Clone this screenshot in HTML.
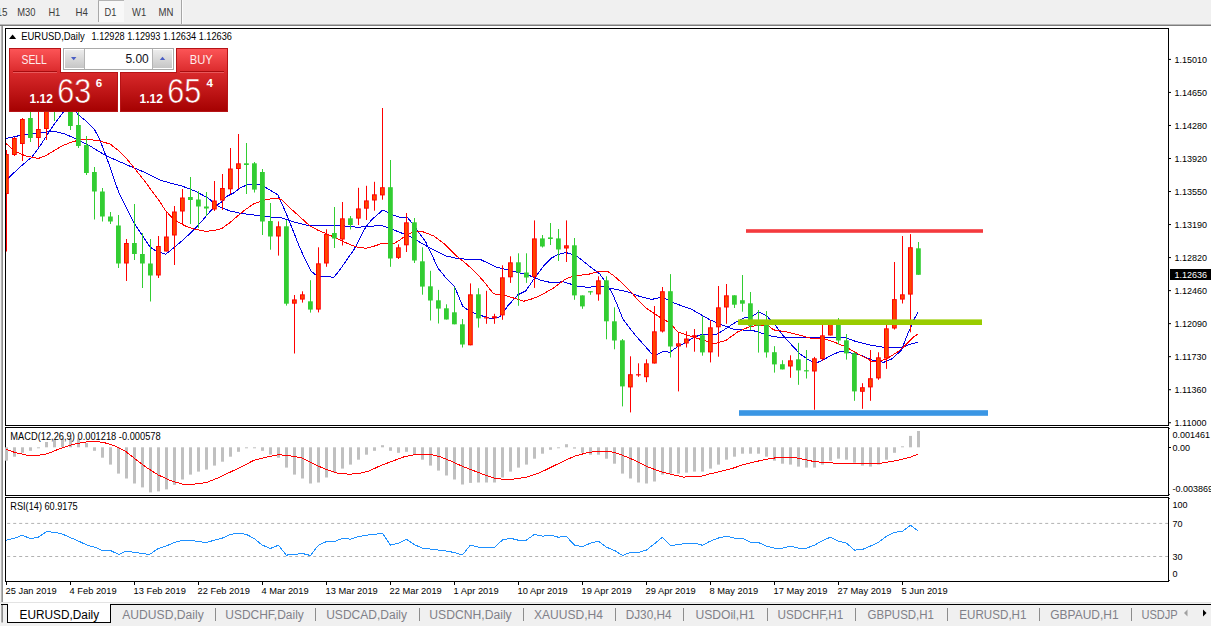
<!DOCTYPE html>
<html><head><meta charset="utf-8"><title>EURUSD,Daily</title>
<style>
html,body{margin:0;padding:0;}
body{width:1211px;height:626px;overflow:hidden;background:#fff;position:relative;font-family:"Liberation Sans",sans-serif;}
svg{position:absolute;left:0;top:0;}
text{font-family:"Liberation Sans",sans-serif;}
.ax{font-size:9px;fill:#000;}
.lb{font-size:10.2px;fill:#000;}
.tb{font-size:10.2px;fill:#3c3c3c;}
.tab{font-size:12px;fill:#808088;}
.ce{shape-rendering:crispEdges;}
</style></head><body>
<svg width="1211" height="626" viewBox="0 0 1211 626">
<defs>
<linearGradient id="gTop" x1="0" y1="0" x2="0" y2="1"><stop offset="0" stop-color="#fd5658"/><stop offset="1" stop-color="#d9282a"/></linearGradient>
<linearGradient id="gBot" x1="0" y1="0" x2="0" y2="1"><stop offset="0" stop-color="#d92a2c"/><stop offset="1" stop-color="#a40000"/></linearGradient>
<linearGradient id="gBotU" gradientUnits="userSpaceOnUse" x1="0" y1="72" x2="0" y2="112"><stop offset="0" stop-color="#d92a2c"/><stop offset="1" stop-color="#a40000"/></linearGradient>
<linearGradient id="gBtn" x1="0" y1="0" x2="0" y2="1"><stop offset="0" stop-color="#ececec"/><stop offset="1" stop-color="#c6c6c6"/></linearGradient>
<clipPath id="cm"><rect x="6" y="29" width="1162" height="396"/></clipPath>
<clipPath id="ctab"><rect x="0" y="603" width="1179" height="23"/></clipPath>
</defs>
<g class="ce">
<rect x="0" y="0" width="1211" height="24" fill="#f0f0f0"/>
<rect x="0" y="24" width="1211" height="1" fill="#b9b9b9"/>
<rect x="0" y="25" width="1211" height="1" fill="#7d7d7d"/>
<rect x="98" y="0" width="26" height="22" fill="#f8f8f8"/>
<rect x="98" y="0" width="1" height="22" fill="#a8a8a8"/>
<rect x="98" y="0" width="26" height="1" fill="#b4b4b4"/>
<rect x="181" y="0" width="1" height="24" fill="#a6a6a6"/>
<rect x="182" y="0" width="1" height="24" fill="#fbfbfb"/>
<rect x="0" y="26" width="1" height="577" fill="#f0f0f0"/>
</g>
<rect x="1.45" y="25" width="1.35" height="577.5" fill="#787878"/>
<text class="tb" x="-3.6" y="15.7" textLength="11" lengthAdjust="spacingAndGlyphs">15</text>
<text class="tb" x="17.3" y="15.7" textLength="18.2" lengthAdjust="spacingAndGlyphs">M30</text>
<text class="tb" x="48.4" y="15.7" textLength="11.9" lengthAdjust="spacingAndGlyphs">H1</text>
<text class="tb" x="75.6" y="15.7" textLength="12.4" lengthAdjust="spacingAndGlyphs">H4</text>
<text class="tb" x="104.5" y="15.7" textLength="11.9" lengthAdjust="spacingAndGlyphs">D1</text>
<text class="tb" x="132.1" y="15.7" textLength="14.1" lengthAdjust="spacingAndGlyphs">W1</text>
<text class="tb" x="158.5" y="15.7" textLength="14.9" lengthAdjust="spacingAndGlyphs">MN</text>
<g class="ce" fill="#000">
<rect x="5" y="28" width="1164" height="1"/>
<rect x="5" y="28" width="1" height="398"/>
<rect x="5" y="425" width="1164" height="1"/>
<rect x="1168" y="28" width="1" height="398"/>
<rect x="1168" y="427" width="1" height="69"/>
<rect x="1168" y="497" width="1" height="85"/>
<rect x="5" y="427" width="1164" height="1"/>
<rect x="5" y="427" width="1" height="69"/>
<rect x="5" y="495" width="1164" height="1"/>
<rect x="5" y="497" width="1164" height="1"/>
<rect x="5" y="497" width="1" height="85"/>
<rect x="5" y="581" width="1164" height="1"/>
</g>
<g clip-path="url(#cm)">
<polyline points="5.6,138.5 20.0,135.5 40.0,132.5 54.0,131.4 65.0,134.0 76.7,139.3 90.0,146.0 105.4,155.3 118.0,161.0 132.6,167.3 145.0,172.5 159.9,180.0 170.0,183.0 181.8,186.0 195.0,191.0 207.8,197.9 217.7,205.9 229.7,210.9 241.7,213.5 259.9,215.8 270.0,216.9 282.0,217.9 294.0,221.9 309.9,225.9 325.0,226.0 339.9,225.5 357.8,227.3 370.0,226.3 381.8,225.5 393.8,229.9 409.7,236.3 429.7,247.9 445.6,255.9 457.6,258.5 469.6,259.5 480.0,259.3 495.9,266.9 511.9,270.9 527.9,274.9 539.8,279.9 549.8,282.3 563.8,281.9 577.8,286.3 587.7,287.3 599.7,286.3 611.7,288.5 627.7,291.8 639.6,296.4 651.9,299.4 661.9,297.0 673.8,303.0 691.8,309.4 710.0,319.9 721.9,324.9 733.9,329.3 753.9,330.8 769.8,335.8 781.8,337.8 801.8,337.2 825.7,337.4 845.9,337.9 855.9,341.5 869.8,344.9 883.8,347.3 901.8,347.5 909.8,344.3 917.7,342.3" fill="none" stroke="#0000e6" stroke-width="1" stroke-linejoin="round" shape-rendering="crispEdges"/>
<polyline points="5.6,181.0 8.8,177.7 20.0,167.0 32.0,156.9 40.0,146.0 47.9,133.8 55.0,123.0 61.5,114.6 66.0,108.0 70.0,106.0 74.0,109.0 78.3,114.9 86.0,121.0 94.2,129.0 100.0,140.0 105.4,154.5 110.0,167.0 115.0,181.7 118.9,192.9 124.6,204.0 133.9,222.9 142.0,235.0 149.9,246.8 154.9,250.4 165.8,254.2 173.8,247.8 183.0,240.0 193.8,229.9 202.0,221.0 209.8,211.9 216.0,205.5 221.7,201.9 226.0,196.8 233.7,192.9 241.0,187.5 247.9,184.6 259.9,184.2 267.9,188.8 277.8,194.8 283.0,206.0 288.0,217.9 294.0,233.0 299.9,247.9 305.0,259.0 310.9,270.8 315.0,274.5 319.9,276.2 333.9,277.2 339.9,269.8 347.0,259.5 353.8,249.9 360.0,238.0 365.8,226.9 372.0,219.5 382.8,210.0 390.0,213.5 397.7,216.9 407.7,217.9 412.0,223.0 417.7,230.9 425.7,241.9 432.0,255.0 437.7,267.8 447.7,280.0 454.7,287.0 458.5,296.0 462.6,306.0 468.0,310.0 476.0,313.8 484.0,316.5 491.9,318.8 499.9,316.8 507.9,305.8 517.9,294.8 525.9,290.8 533.9,278.9 543.8,265.9 551.8,257.9 558.0,254.5 565.8,252.5 571.0,254.0 577.8,256.9 591.7,267.9 599.7,273.9 604.5,280.5 609.7,288.9 613.0,295.0 617.7,306.0 622.9,319.0 628.0,326.0 635.9,335.9 644.0,345.0 651.9,353.9 656.9,354.5 663.9,351.3 669.8,352.3 677.8,346.5 685.8,342.5 693.8,337.3 701.8,334.5 716.0,334.6 723.0,330.5 729.9,325.9 737.0,321.5 743.9,317.9 751.9,316.5 758.9,311.9 766.8,315.9 775.8,325.9 781.0,333.0 787.8,340.8 793.5,347.0 800.0,353.9 810.0,360.9 817.9,362.3 824.0,359.5 829.9,355.9 839.9,351.5 847.9,352.3 859.9,354.9 871.8,359.9 883.8,362.3 891.8,358.9 901.8,349.9 904.5,342.0 907.8,333.9 913.8,320.0 917.7,312.4" fill="none" stroke="#0000e6" stroke-width="1" stroke-linejoin="round" shape-rendering="crispEdges"/>
<polyline points="5.6,143.0 14.4,151.3 26.0,156.0 38.3,158.5 46.0,155.5 54.3,150.5 62.0,146.0 70.3,142.5 78.0,140.3 86.3,139.3 98.0,140.5 110.2,144.1 119.0,151.0 127.8,160.1 135.5,169.5 143.8,180.0 152.0,191.0 159.7,201.6 165.8,210.9 171.5,217.0 177.8,221.9 185.5,226.0 193.8,228.9 205.8,231.3 214.0,230.5 221.7,228.5 229.5,223.0 237.7,215.9 245.5,209.5 253.7,203.9 259.9,201.5 267.9,199.2 277.8,198.3 282.5,200.3 290.0,208.0 299.5,216.5 309.9,225.9 318.5,230.5 327.9,234.3 343.9,241.9 355.8,246.9 365.8,248.3 374.0,246.2 381.8,243.5 393.8,243.5 400.0,240.0 405.7,235.5 413.0,232.3 421.7,231.3 433.7,235.9 445.6,244.9 457.6,256.9 463.5,261.5 472.0,268.9 478.5,275.5 485.9,283.9 489.5,289.0 493.9,293.8 505.9,295.8 514.5,298.3 523.9,301.2 531.5,299.0 539.8,295.8 553.8,287.9 565.8,278.9 575.8,275.5 587.7,274.5 599.7,271.3 607.7,271.5 613.5,275.5 619.7,280.9 631.7,292.8 638.5,300.5 645.9,308.0 657.9,316.0 669.8,322.9 677.8,331.9 689.8,335.9 702.0,339.8 714.0,343.8 725.9,340.4 737.9,331.8 749.9,326.5 759.0,325.3 767.8,325.3 773.8,329.9 785.8,331.8 801.8,335.8 811.8,338.4 821.9,337.9 833.9,341.9 845.9,346.9 857.9,353.9 865.6,357.8 871.6,361.2 878.5,361.3 885.8,359.3 897.8,351.9 905.8,344.9 913.8,336.9 917.7,334.3" fill="none" stroke="#ff0000" stroke-width="1" stroke-linejoin="round" shape-rendering="crispEdges"/>
<rect x="6" y="150.0" width="1" height="101.5" fill="#ff0000"/>
<rect x="4" y="154.0" width="4.8" height="40.0" fill="#ff0000"/>
<rect x="5" y="155.0" width="2.8" height="38.0" fill="#ff4500"/>
<rect x="14" y="137.0" width="1" height="19.0" fill="#ff0000"/>
<rect x="12" y="138.0" width="4.8" height="17.0" fill="#ff0000"/>
<rect x="13" y="139.0" width="2.8" height="15.0" fill="#ff4500"/>
<rect x="22" y="118.0" width="1" height="43.0" fill="#ff0000"/>
<rect x="20" y="119.0" width="4.8" height="25.0" fill="#ff0000"/>
<rect x="21" y="120.0" width="2.8" height="23.0" fill="#ff4500"/>
<rect x="30" y="108.0" width="1" height="34.0" fill="#32cd32"/>
<rect x="28" y="118.0" width="4.8" height="20.0" fill="#32cd32"/>
<rect x="38" y="100.0" width="1" height="47.0" fill="#ff0000"/>
<rect x="36" y="129.0" width="4.8" height="9.0" fill="#ff0000"/>
<rect x="37" y="130.0" width="2.8" height="7.0" fill="#ff4500"/>
<rect x="46" y="100.0" width="1" height="40.0" fill="#ff0000"/>
<rect x="44" y="100.0" width="4.8" height="29.0" fill="#ff0000"/>
<rect x="45" y="101.0" width="2.8" height="27.0" fill="#ff4500"/>
<rect x="54" y="95.0" width="1" height="26.0" fill="#32cd32"/>
<rect x="52" y="100.0" width="4.8" height="8.0" fill="#32cd32"/>
<rect x="70" y="100.0" width="1" height="30.0" fill="#32cd32"/>
<rect x="68" y="100.0" width="4.8" height="26.0" fill="#32cd32"/>
<rect x="78" y="108.0" width="1" height="40.0" fill="#32cd32"/>
<rect x="76" y="125.0" width="4.8" height="21.0" fill="#32cd32"/>
<rect x="86" y="136.0" width="1" height="39.0" fill="#32cd32"/>
<rect x="84" y="145.0" width="4.8" height="28.0" fill="#32cd32"/>
<rect x="94" y="167.0" width="1" height="52.5" fill="#32cd32"/>
<rect x="92" y="172.0" width="4.8" height="19.5" fill="#32cd32"/>
<rect x="102" y="188.0" width="1" height="33.5" fill="#32cd32"/>
<rect x="100" y="191.5" width="4.8" height="25.0" fill="#32cd32"/>
<rect x="110" y="212.0" width="1" height="12.0" fill="#32cd32"/>
<rect x="108" y="216.5" width="4.8" height="5.0" fill="#32cd32"/>
<rect x="118" y="215.0" width="1" height="53.0" fill="#32cd32"/>
<rect x="116" y="225.5" width="4.8" height="38.0" fill="#32cd32"/>
<rect x="126" y="239.0" width="1" height="42.0" fill="#ff0000"/>
<rect x="124" y="243.0" width="4.8" height="20.5" fill="#ff0000"/>
<rect x="125" y="244.0" width="2.8" height="18.5" fill="#ff4500"/>
<rect x="134" y="204.0" width="1" height="56.0" fill="#32cd32"/>
<rect x="132" y="243.0" width="4.8" height="11.0" fill="#32cd32"/>
<rect x="142" y="233.0" width="1" height="55.0" fill="#32cd32"/>
<rect x="140" y="254.0" width="4.8" height="9.5" fill="#32cd32"/>
<rect x="150" y="239.0" width="1" height="62.5" fill="#32cd32"/>
<rect x="148" y="263.5" width="4.8" height="12.0" fill="#32cd32"/>
<rect x="158" y="236.0" width="1" height="42.0" fill="#ff0000"/>
<rect x="156" y="246.0" width="4.8" height="29.5" fill="#ff0000"/>
<rect x="157" y="247.0" width="2.8" height="27.5" fill="#ff4500"/>
<rect x="166" y="212.0" width="1" height="39.5" fill="#ff0000"/>
<rect x="164" y="236.5" width="4.8" height="15.0" fill="#ff0000"/>
<rect x="165" y="237.5" width="2.8" height="13.0" fill="#ff4500"/>
<rect x="174" y="206.0" width="1" height="59.0" fill="#ff0000"/>
<rect x="172" y="211.5" width="4.8" height="24.0" fill="#ff0000"/>
<rect x="173" y="212.5" width="2.8" height="22.0" fill="#ff4500"/>
<rect x="182" y="189.0" width="1" height="35.0" fill="#ff0000"/>
<rect x="180" y="197.5" width="4.8" height="14.0" fill="#ff0000"/>
<rect x="181" y="198.5" width="2.8" height="12.0" fill="#ff4500"/>
<rect x="190" y="177.0" width="1" height="47.0" fill="#32cd32"/>
<rect x="188" y="197.0" width="4.8" height="3.0" fill="#32cd32"/>
<rect x="198" y="191.0" width="1" height="37.0" fill="#32cd32"/>
<rect x="196" y="199.5" width="4.8" height="7.0" fill="#32cd32"/>
<rect x="206" y="192.0" width="1" height="24.0" fill="#32cd32"/>
<rect x="204" y="206.5" width="4.8" height="2.0" fill="#32cd32"/>
<rect x="214" y="181.0" width="1" height="30.0" fill="#ff0000"/>
<rect x="212" y="200.5" width="4.8" height="9.0" fill="#ff0000"/>
<rect x="213" y="201.5" width="2.8" height="7.0" fill="#ff4500"/>
<rect x="222" y="174.0" width="1" height="36.0" fill="#ff0000"/>
<rect x="220" y="188.0" width="4.8" height="12.5" fill="#ff0000"/>
<rect x="221" y="189.0" width="2.8" height="10.5" fill="#ff4500"/>
<rect x="230" y="148.0" width="1" height="46.0" fill="#ff0000"/>
<rect x="228" y="168.5" width="4.8" height="20.8" fill="#ff0000"/>
<rect x="229" y="169.5" width="2.8" height="18.8" fill="#ff4500"/>
<rect x="238" y="134.0" width="1" height="55.0" fill="#ff0000"/>
<rect x="236" y="163.3" width="4.8" height="5.7" fill="#ff0000"/>
<rect x="237" y="164.3" width="2.8" height="3.7" fill="#ff4500"/>
<rect x="246" y="143.0" width="1" height="51.0" fill="#32cd32"/>
<rect x="244" y="163.3" width="4.8" height="1.7" fill="#32cd32"/>
<rect x="254" y="162.0" width="1" height="30.5" fill="#32cd32"/>
<rect x="252" y="163.3" width="4.8" height="26.3" fill="#32cd32"/>
<rect x="262" y="169.0" width="1" height="66.0" fill="#32cd32"/>
<rect x="260" y="172.0" width="4.8" height="49.5" fill="#32cd32"/>
<rect x="270" y="203.0" width="1" height="46.7" fill="#32cd32"/>
<rect x="268" y="221.0" width="4.8" height="15.5" fill="#32cd32"/>
<rect x="278" y="221.4" width="1" height="34.2" fill="#ff0000"/>
<rect x="276" y="226.3" width="4.8" height="10.2" fill="#ff0000"/>
<rect x="277" y="227.3" width="2.8" height="8.2" fill="#ff4500"/>
<rect x="286" y="220.0" width="1" height="85.6" fill="#32cd32"/>
<rect x="284" y="226.3" width="4.8" height="77.4" fill="#32cd32"/>
<rect x="294" y="295.0" width="1" height="58.5" fill="#ff0000"/>
<rect x="292" y="299.4" width="4.8" height="4.3" fill="#ff0000"/>
<rect x="293" y="300.4" width="2.8" height="2.3" fill="#ff4500"/>
<rect x="302" y="291.3" width="1" height="11.3" fill="#ff0000"/>
<rect x="300" y="294.3" width="4.8" height="5.3" fill="#ff0000"/>
<rect x="301" y="295.3" width="2.8" height="3.3" fill="#ff4500"/>
<rect x="310" y="280.2" width="1" height="32.4" fill="#32cd32"/>
<rect x="308" y="301.3" width="4.8" height="8.3" fill="#32cd32"/>
<rect x="318" y="247.3" width="1" height="65.1" fill="#ff0000"/>
<rect x="316" y="263.3" width="4.8" height="46.3" fill="#ff0000"/>
<rect x="317" y="264.3" width="2.8" height="44.3" fill="#ff4500"/>
<rect x="326" y="229.3" width="1" height="37.5" fill="#ff0000"/>
<rect x="324" y="233.9" width="4.8" height="29.6" fill="#ff0000"/>
<rect x="325" y="234.9" width="2.8" height="27.6" fill="#ff4500"/>
<rect x="334" y="207.0" width="1" height="41.0" fill="#32cd32"/>
<rect x="332" y="233.0" width="4.8" height="5.5" fill="#32cd32"/>
<rect x="342" y="202.0" width="1" height="43.5" fill="#ff0000"/>
<rect x="340" y="218.3" width="4.8" height="21.2" fill="#ff0000"/>
<rect x="341" y="219.3" width="2.8" height="19.2" fill="#ff4500"/>
<rect x="350" y="216.0" width="1" height="13.5" fill="#32cd32"/>
<rect x="348" y="218.3" width="4.8" height="6.7" fill="#32cd32"/>
<rect x="358" y="187.8" width="1" height="37.2" fill="#ff0000"/>
<rect x="356" y="208.4" width="4.8" height="10.2" fill="#ff0000"/>
<rect x="357" y="209.4" width="2.8" height="8.2" fill="#ff4500"/>
<rect x="366" y="185.8" width="1" height="34.2" fill="#ff0000"/>
<rect x="364" y="200.4" width="4.8" height="8.3" fill="#ff0000"/>
<rect x="365" y="201.4" width="2.8" height="6.3" fill="#ff4500"/>
<rect x="374" y="181.8" width="1" height="28.9" fill="#ff0000"/>
<rect x="372" y="194.3" width="4.8" height="6.2" fill="#ff0000"/>
<rect x="373" y="195.3" width="2.8" height="4.2" fill="#ff4500"/>
<rect x="382" y="108.0" width="1" height="91.7" fill="#ff0000"/>
<rect x="380" y="187.2" width="4.8" height="8.2" fill="#ff0000"/>
<rect x="381" y="188.2" width="2.8" height="6.2" fill="#ff4500"/>
<rect x="390" y="160.0" width="1" height="106.8" fill="#32cd32"/>
<rect x="388" y="187.2" width="4.8" height="71.3" fill="#32cd32"/>
<rect x="398" y="244.3" width="1" height="14.7" fill="#ff0000"/>
<rect x="396" y="247.3" width="4.8" height="10.6" fill="#ff0000"/>
<rect x="397" y="248.3" width="2.8" height="8.6" fill="#ff4500"/>
<rect x="406" y="213.0" width="1" height="39.0" fill="#ff0000"/>
<rect x="404" y="222.3" width="4.8" height="23.0" fill="#ff0000"/>
<rect x="405" y="223.3" width="2.8" height="21.0" fill="#ff4500"/>
<rect x="414" y="218.0" width="1" height="45.0" fill="#32cd32"/>
<rect x="412" y="222.3" width="4.8" height="38.2" fill="#32cd32"/>
<rect x="422" y="247.3" width="1" height="47.4" fill="#32cd32"/>
<rect x="420" y="261.3" width="4.8" height="25.3" fill="#32cd32"/>
<rect x="430" y="270.8" width="1" height="49.7" fill="#32cd32"/>
<rect x="428" y="286.3" width="4.8" height="14.2" fill="#32cd32"/>
<rect x="438" y="289.9" width="1" height="33.6" fill="#32cd32"/>
<rect x="436" y="300.3" width="4.8" height="8.3" fill="#32cd32"/>
<rect x="446" y="304.3" width="1" height="15.2" fill="#32cd32"/>
<rect x="444" y="308.3" width="4.8" height="11.2" fill="#32cd32"/>
<rect x="454" y="287.1" width="1" height="37.2" fill="#32cd32"/>
<rect x="452" y="312.3" width="4.8" height="12.0" fill="#32cd32"/>
<rect x="462" y="319.0" width="1" height="28.5" fill="#32cd32"/>
<rect x="460" y="324.3" width="4.8" height="20.2" fill="#32cd32"/>
<rect x="470" y="283.4" width="1" height="61.9" fill="#ff0000"/>
<rect x="468" y="294.3" width="4.8" height="51.0" fill="#ff0000"/>
<rect x="469" y="295.3" width="2.8" height="49.0" fill="#ff4500"/>
<rect x="478" y="288.2" width="1" height="39.4" fill="#32cd32"/>
<rect x="476" y="294.3" width="4.8" height="24.1" fill="#32cd32"/>
<rect x="486" y="290.8" width="1" height="33.0" fill="#ff0000"/>
<rect x="484" y="317.2" width="4.8" height="1.2" fill="#ff0000"/>
<rect x="494" y="313.8" width="1" height="10.0" fill="#ff0000"/>
<rect x="492" y="316.2" width="4.8" height="2.2" fill="#ff0000"/>
<rect x="502" y="265.3" width="1" height="54.5" fill="#ff0000"/>
<rect x="500" y="277.3" width="4.8" height="38.1" fill="#ff0000"/>
<rect x="501" y="278.3" width="2.8" height="36.1" fill="#ff4500"/>
<rect x="510" y="256.3" width="1" height="26.6" fill="#ff0000"/>
<rect x="508" y="262.3" width="4.8" height="15.0" fill="#ff0000"/>
<rect x="509" y="263.3" width="2.8" height="13.0" fill="#ff4500"/>
<rect x="518" y="253.3" width="1" height="52.5" fill="#32cd32"/>
<rect x="516" y="262.3" width="4.8" height="10.2" fill="#32cd32"/>
<rect x="526" y="253.3" width="1" height="29.6" fill="#32cd32"/>
<rect x="524" y="272.5" width="4.8" height="5.0" fill="#32cd32"/>
<rect x="534" y="220.4" width="1" height="67.5" fill="#ff0000"/>
<rect x="532" y="238.4" width="4.8" height="38.5" fill="#ff0000"/>
<rect x="533" y="239.4" width="2.8" height="36.5" fill="#ff4500"/>
<rect x="542" y="235.0" width="1" height="12.5" fill="#32cd32"/>
<rect x="540" y="238.4" width="4.8" height="8.1" fill="#32cd32"/>
<rect x="550" y="223.0" width="1" height="22.0" fill="#32cd32"/>
<rect x="548" y="237.4" width="4.8" height="1.6" fill="#32cd32"/>
<rect x="558" y="229.0" width="1" height="32.0" fill="#32cd32"/>
<rect x="556" y="238.4" width="4.8" height="11.1" fill="#32cd32"/>
<rect x="566" y="220.4" width="1" height="41.6" fill="#ff0000"/>
<rect x="564" y="245.3" width="4.8" height="3.2" fill="#ff0000"/>
<rect x="565" y="246.3" width="2.8" height="1.2" fill="#ff4500"/>
<rect x="574" y="238.0" width="1" height="61.8" fill="#32cd32"/>
<rect x="572" y="245.3" width="4.8" height="50.1" fill="#32cd32"/>
<rect x="582" y="295.4" width="1" height="13.4" fill="#32cd32"/>
<rect x="580" y="295.4" width="4.8" height="11.0" fill="#32cd32"/>
<rect x="590" y="291.2" width="1" height="3.6" fill="#32cd32"/>
<rect x="588" y="291.2" width="4.8" height="1.2" fill="#32cd32"/>
<rect x="598" y="276.3" width="1" height="24.4" fill="#ff0000"/>
<rect x="596" y="280.3" width="4.8" height="14.1" fill="#ff0000"/>
<rect x="597" y="281.3" width="2.8" height="12.1" fill="#ff4500"/>
<rect x="606" y="276.3" width="1" height="63.0" fill="#32cd32"/>
<rect x="604" y="280.3" width="4.8" height="41.0" fill="#32cd32"/>
<rect x="614" y="307.3" width="1" height="42.0" fill="#32cd32"/>
<rect x="612" y="321.3" width="4.8" height="19.2" fill="#32cd32"/>
<rect x="622" y="339.0" width="1" height="67.4" fill="#32cd32"/>
<rect x="620" y="340.3" width="4.8" height="46.1" fill="#32cd32"/>
<rect x="630" y="356.3" width="1" height="56.1" fill="#ff0000"/>
<rect x="628" y="374.2" width="4.8" height="13.2" fill="#ff0000"/>
<rect x="629" y="375.2" width="2.8" height="11.2" fill="#ff4500"/>
<rect x="638" y="363.3" width="1" height="13.5" fill="#ff0000"/>
<rect x="636" y="374.2" width="4.8" height="1.2" fill="#ff0000"/>
<rect x="646" y="359.3" width="1" height="22.9" fill="#ff0000"/>
<rect x="644" y="363.3" width="4.8" height="13.9" fill="#ff0000"/>
<rect x="645" y="364.3" width="2.8" height="11.9" fill="#ff4500"/>
<rect x="654" y="306.0" width="1" height="57.5" fill="#ff0000"/>
<rect x="652" y="331.3" width="4.8" height="32.2" fill="#ff0000"/>
<rect x="653" y="332.3" width="2.8" height="30.2" fill="#ff4500"/>
<rect x="662" y="287.0" width="1" height="45.5" fill="#ff0000"/>
<rect x="660" y="291.2" width="4.8" height="40.3" fill="#ff0000"/>
<rect x="661" y="292.2" width="2.8" height="38.3" fill="#ff4500"/>
<rect x="670" y="274.1" width="1" height="83.4" fill="#32cd32"/>
<rect x="668" y="291.2" width="4.8" height="55.3" fill="#32cd32"/>
<rect x="678" y="332.3" width="1" height="59.1" fill="#ff0000"/>
<rect x="676" y="343.3" width="4.8" height="3.2" fill="#ff0000"/>
<rect x="677" y="344.3" width="2.8" height="1.2" fill="#ff4500"/>
<rect x="686" y="331.3" width="1" height="16.2" fill="#ff0000"/>
<rect x="684" y="338.5" width="4.8" height="5.0" fill="#ff0000"/>
<rect x="685" y="339.5" width="2.8" height="3.0" fill="#ff4500"/>
<rect x="694" y="329.0" width="1" height="22.7" fill="#ff0000"/>
<rect x="692" y="335.2" width="4.8" height="2.2" fill="#ff0000"/>
<rect x="702" y="316.3" width="1" height="39.4" fill="#32cd32"/>
<rect x="700" y="335.2" width="4.8" height="17.2" fill="#32cd32"/>
<rect x="710" y="320.3" width="1" height="42.1" fill="#ff0000"/>
<rect x="708" y="327.3" width="4.8" height="25.1" fill="#ff0000"/>
<rect x="709" y="328.3" width="2.8" height="23.1" fill="#ff4500"/>
<rect x="718" y="286.0" width="1" height="70.7" fill="#ff0000"/>
<rect x="716" y="307.3" width="4.8" height="20.0" fill="#ff0000"/>
<rect x="717" y="308.3" width="2.8" height="18.0" fill="#ff4500"/>
<rect x="726" y="284.0" width="1" height="39.8" fill="#ff0000"/>
<rect x="724" y="295.3" width="4.8" height="12.2" fill="#ff0000"/>
<rect x="725" y="296.3" width="2.8" height="10.2" fill="#ff4500"/>
<rect x="734" y="295.3" width="1" height="12.7" fill="#32cd32"/>
<rect x="732" y="295.3" width="4.8" height="9.4" fill="#32cd32"/>
<rect x="742" y="275.0" width="1" height="36.7" fill="#32cd32"/>
<rect x="740" y="300.2" width="4.8" height="3.5" fill="#32cd32"/>
<rect x="750" y="292.0" width="1" height="38.0" fill="#32cd32"/>
<rect x="748" y="303.3" width="4.8" height="22.5" fill="#32cd32"/>
<rect x="758" y="310.0" width="1" height="42.6" fill="#32cd32"/>
<rect x="756" y="321.0" width="4.8" height="4.8" fill="#32cd32"/>
<rect x="766" y="311.0" width="1" height="46.6" fill="#32cd32"/>
<rect x="764" y="325.0" width="4.8" height="27.4" fill="#32cd32"/>
<rect x="774" y="346.2" width="1" height="26.4" fill="#32cd32"/>
<rect x="772" y="352.2" width="4.8" height="12.2" fill="#32cd32"/>
<rect x="782" y="360.2" width="1" height="9.2" fill="#32cd32"/>
<rect x="780" y="364.2" width="4.8" height="5.2" fill="#32cd32"/>
<rect x="790" y="355.3" width="1" height="22.5" fill="#ff0000"/>
<rect x="788" y="360.3" width="4.8" height="6.2" fill="#ff0000"/>
<rect x="789" y="361.3" width="2.8" height="4.2" fill="#ff4500"/>
<rect x="798" y="342.9" width="1" height="41.9" fill="#32cd32"/>
<rect x="796" y="359.3" width="4.8" height="11.1" fill="#32cd32"/>
<rect x="806" y="350.0" width="1" height="28.5" fill="#32cd32"/>
<rect x="804" y="370.2" width="4.8" height="1.2" fill="#32cd32"/>
<rect x="814" y="356.9" width="1" height="52.9" fill="#ff0000"/>
<rect x="812" y="358.3" width="4.8" height="13.2" fill="#ff0000"/>
<rect x="813" y="359.3" width="2.8" height="11.2" fill="#ff4500"/>
<rect x="822" y="325.0" width="1" height="35.9" fill="#ff0000"/>
<rect x="820" y="335.3" width="4.8" height="23.8" fill="#ff0000"/>
<rect x="821" y="336.3" width="2.8" height="21.8" fill="#ff4500"/>
<rect x="830" y="322.0" width="1" height="13.5" fill="#ff0000"/>
<rect x="828" y="322.0" width="4.8" height="13.5" fill="#ff0000"/>
<rect x="829" y="323.0" width="2.8" height="11.5" fill="#ff4500"/>
<rect x="838" y="318.0" width="1" height="26.5" fill="#32cd32"/>
<rect x="836" y="325.0" width="4.8" height="15.5" fill="#32cd32"/>
<rect x="846" y="334.0" width="1" height="25.6" fill="#32cd32"/>
<rect x="844" y="340.3" width="4.8" height="13.1" fill="#32cd32"/>
<rect x="854" y="352.0" width="1" height="48.8" fill="#32cd32"/>
<rect x="852" y="353.3" width="4.8" height="38.1" fill="#32cd32"/>
<rect x="862" y="383.2" width="1" height="25.6" fill="#ff0000"/>
<rect x="860" y="387.2" width="4.8" height="4.6" fill="#ff0000"/>
<rect x="861" y="388.2" width="2.8" height="2.6" fill="#ff4500"/>
<rect x="870" y="350.0" width="1" height="50.8" fill="#ff0000"/>
<rect x="868" y="378.2" width="4.8" height="9.2" fill="#ff0000"/>
<rect x="869" y="379.2" width="2.8" height="7.2" fill="#ff4500"/>
<rect x="878" y="352.3" width="1" height="27.5" fill="#ff0000"/>
<rect x="876" y="357.3" width="4.8" height="21.1" fill="#ff0000"/>
<rect x="877" y="358.3" width="2.8" height="19.1" fill="#ff4500"/>
<rect x="886" y="325.0" width="1" height="43.9" fill="#ff0000"/>
<rect x="884" y="328.3" width="4.8" height="30.3" fill="#ff0000"/>
<rect x="885" y="329.3" width="2.8" height="28.3" fill="#ff4500"/>
<rect x="894" y="262.0" width="1" height="67.5" fill="#ff0000"/>
<rect x="892" y="299.1" width="4.8" height="29.4" fill="#ff0000"/>
<rect x="893" y="300.1" width="2.8" height="27.4" fill="#ff4500"/>
<rect x="902" y="236.0" width="1" height="67.5" fill="#ff0000"/>
<rect x="900" y="294.3" width="4.8" height="5.3" fill="#ff0000"/>
<rect x="901" y="295.3" width="2.8" height="3.3" fill="#ff4500"/>
<rect x="910" y="234.1" width="1" height="98.2" fill="#ff0000"/>
<rect x="908" y="247.2" width="4.8" height="47.4" fill="#ff0000"/>
<rect x="909" y="248.2" width="2.8" height="45.4" fill="#ff4500"/>
<rect x="918" y="242.0" width="1" height="32.8" fill="#32cd32"/>
<rect x="916" y="248.3" width="4.8" height="26.5" fill="#32cd32"/>
<rect x="746" y="229.2" width="237" height="3.6" fill="#f43a3e"/>
<rect x="738" y="319.4" width="244" height="5.6" fill="#99cc00"/>
<rect x="739" y="410.2" width="249" height="5.6" fill="#3a96e4"/>
</g>
<g class="ce">
<rect x="9" y="48" width="219" height="25" fill="#fff"/>
<rect x="9" y="48" width="52" height="25" fill="url(#gTop)" stroke="none"/>
<rect x="176" y="48" width="52" height="25" fill="url(#gTop)"/>
<rect x="9" y="72" width="109" height="40" fill="url(#gBot)"/>
<rect x="120" y="72" width="108" height="40" fill="url(#gBot)"/>
<path d="M9.5 112V48.5H60.5V72.5H117.5V111.5H9.5" fill="none" stroke="#b61316" stroke-width="1"/>
<path d="M227.5 112V48.5H176.5V72.5H120.5V111.5H227.5" fill="none" stroke="#b61316" stroke-width="1"/>
<rect x="13" y="71" width="44" height="1" fill="#a80b0d"/>
<rect x="13" y="72" width="44" height="1" fill="#e8595b"/>
<rect x="180" y="71" width="44" height="1" fill="#a80b0d"/>
<rect x="180" y="72" width="44" height="1" fill="#e8595b"/>
<rect x="63.5" y="48.5" width="110" height="21" fill="#fff" stroke="#a9a9a9"/>
<rect x="65" y="50" width="19" height="18" fill="url(#gBtn)"/>
<rect x="84" y="49" width="1" height="20" fill="#b4b4b4"/>
<rect x="153" y="50" width="19" height="18" fill="url(#gBtn)"/>
<rect x="152" y="49" width="1" height="20" fill="#b4b4b4"/>
</g>
<path d="M71 57h5.4l-2.7 3.2z" fill="#4a5ec4"/>
<path d="M159.8 60h5.4l-2.7-3.2z" fill="#4a5ec4"/>
<text x="34.2" y="64" text-anchor="middle" font-size="12" fill="#ffecec" textLength="25.4" lengthAdjust="spacingAndGlyphs">SELL</text>
<text x="201.3" y="64" text-anchor="middle" font-size="12" fill="#ffecec" textLength="23" lengthAdjust="spacingAndGlyphs">BUY</text>
<text x="148.8" y="63.2" text-anchor="end" font-size="12" fill="#101020">5.00</text>
<text x="29.5" y="103" font-size="12" font-weight="bold" fill="#fff">1.12</text>
<text x="57.2" y="103.2" font-size="34.5" fill="#fff" stroke="url(#gBotU)" stroke-width="0.55" textLength="34" lengthAdjust="spacingAndGlyphs">63</text>
<text x="95.8" y="87.3" font-size="11.6" font-weight="bold" fill="#fff">6</text>
<text x="139.5" y="103" font-size="12" font-weight="bold" fill="#fff">1.12</text>
<text x="167.2" y="103.2" font-size="34.5" fill="#fff" stroke="url(#gBotU)" stroke-width="0.55" textLength="34" lengthAdjust="spacingAndGlyphs">65</text>
<text x="206.60000000000002" y="87.3" font-size="11.6" font-weight="bold" fill="#fff">4</text>
<path d="M9 39h7.2l-3.6-4.4z" fill="#000"/>
<text class="lb" x="21.2" y="40" textLength="63.6" lengthAdjust="spacingAndGlyphs">EURUSD,Daily</text>
<text class="lb" x="91.5" y="40" textLength="140.4" lengthAdjust="spacingAndGlyphs">1.12928 1.12993 1.12634 1.12636</text>
<rect x="1169" y="58.90" width="2" height="1" fill="#000"/>
<rect x="1169" y="91.93" width="2" height="1" fill="#000"/>
<rect x="1169" y="124.96" width="2" height="1" fill="#000"/>
<rect x="1169" y="157.99" width="2" height="1" fill="#000"/>
<rect x="1169" y="191.02" width="2" height="1" fill="#000"/>
<rect x="1169" y="224.05" width="2" height="1" fill="#000"/>
<rect x="1169" y="257.08" width="2" height="1" fill="#000"/>
<rect x="1169" y="290.11" width="2" height="1" fill="#000"/>
<rect x="1169" y="323.14" width="2" height="1" fill="#000"/>
<rect x="1169" y="356.17" width="2" height="1" fill="#000"/>
<rect x="1169" y="389.20" width="2" height="1" fill="#000"/>
<rect x="1169" y="422.23" width="2" height="1" fill="#000"/>
<g class="ce">
<rect x="1170" y="269" width="41" height="11" fill="#000"/>
<rect x="1169" y="447" width="2" height="1" fill="#000"/>
<rect x="1169" y="428" width="1" height="1" fill="#444"/>
<rect x="1169" y="494" width="1" height="1" fill="#444"/>
<rect x="1169" y="498" width="1" height="1" fill="#444"/>
<rect x="1169" y="580" width="1" height="1" fill="#444"/>
</g>
<text class="ax" x="1174.6" y="62.60">1.15010</text>
<text class="ax" x="1174.6" y="95.63">1.14650</text>
<text class="ax" x="1174.6" y="128.66">1.14280</text>
<text class="ax" x="1174.6" y="161.69">1.13920</text>
<text class="ax" x="1174.6" y="194.72">1.13550</text>
<text class="ax" x="1174.6" y="227.75">1.13190</text>
<text class="ax" x="1174.6" y="260.78">1.12820</text>
<text class="ax" x="1174.6" y="293.81">1.12460</text>
<text class="ax" x="1174.6" y="326.84">1.12090</text>
<text class="ax" x="1174.6" y="359.87">1.11730</text>
<text class="ax" x="1174.6" y="392.90">1.11360</text>
<text class="ax" x="1174.6" y="425.93">1.11000</text>
<text class="ax" x="1174.6" y="277.5" style="fill:#fff">1.12636</text>
<g class="ce" fill="#c0c0c0">
<rect x="5" y="447.3" width="3" height="13.4" shape-rendering="auto"/>
<rect x="13" y="447.3" width="3" height="9.4" shape-rendering="auto"/>
<rect x="21" y="447.3" width="3" height="5.5" shape-rendering="auto"/>
<rect x="29" y="447.3" width="3" height="3.5" shape-rendering="auto"/>
<rect x="37" y="447.3" width="3" height="1.0" shape-rendering="auto"/>
<rect x="45" y="442.0" width="3" height="5.3" shape-rendering="auto"/>
<rect x="53" y="439.5" width="3" height="7.8" shape-rendering="auto"/>
<rect x="61" y="438.5" width="3" height="8.8" shape-rendering="auto"/>
<rect x="69" y="438.0" width="3" height="9.3" shape-rendering="auto"/>
<rect x="77" y="438.5" width="3" height="8.8" shape-rendering="auto"/>
<rect x="85" y="443.0" width="3" height="4.3" shape-rendering="auto"/>
<rect x="93" y="447.3" width="3" height="3.5" shape-rendering="auto"/>
<rect x="101" y="447.3" width="3" height="10.4" shape-rendering="auto"/>
<rect x="109" y="447.3" width="3" height="17.3" shape-rendering="auto"/>
<rect x="117" y="447.3" width="3" height="26.3" shape-rendering="auto"/>
<rect x="125" y="447.3" width="3" height="31.2" shape-rendering="auto"/>
<rect x="133" y="447.3" width="3" height="36.2" shape-rendering="auto"/>
<rect x="141" y="447.3" width="3" height="40.1" shape-rendering="auto"/>
<rect x="149" y="447.3" width="3" height="45.1" shape-rendering="auto"/>
<rect x="157" y="447.3" width="3" height="44.1" shape-rendering="auto"/>
<rect x="165" y="447.3" width="3" height="42.1" shape-rendering="auto"/>
<rect x="173" y="447.3" width="3" height="37.6" shape-rendering="auto"/>
<rect x="181" y="447.3" width="3" height="32.2" shape-rendering="auto"/>
<rect x="189" y="447.3" width="3" height="27.3" shape-rendering="auto"/>
<rect x="197" y="447.3" width="3" height="24.3" shape-rendering="auto"/>
<rect x="205" y="447.3" width="3" height="22.3" shape-rendering="auto"/>
<rect x="213" y="447.3" width="3" height="18.3" shape-rendering="auto"/>
<rect x="221" y="447.3" width="3" height="14.4" shape-rendering="auto"/>
<rect x="229" y="447.3" width="3" height="9.4" shape-rendering="auto"/>
<rect x="237" y="447.3" width="3" height="4.5" shape-rendering="auto"/>
<rect x="245" y="447.3" width="3" height="1.0" shape-rendering="auto"/>
<rect x="253" y="447.3" width="3" height="1.0" shape-rendering="auto"/>
<rect x="261" y="447.3" width="3" height="3.5" shape-rendering="auto"/>
<rect x="269" y="447.3" width="3" height="7.4" shape-rendering="auto"/>
<rect x="277" y="447.3" width="3" height="10.4" shape-rendering="auto"/>
<rect x="285" y="447.3" width="3" height="20.3" shape-rendering="auto"/>
<rect x="293" y="447.3" width="3" height="27.3" shape-rendering="auto"/>
<rect x="301" y="447.3" width="3" height="31.2" shape-rendering="auto"/>
<rect x="309" y="447.3" width="3" height="36.2" shape-rendering="auto"/>
<rect x="317" y="447.3" width="3" height="35.2" shape-rendering="auto"/>
<rect x="325" y="447.3" width="3" height="30.2" shape-rendering="auto"/>
<rect x="333" y="447.3" width="3" height="25.3" shape-rendering="auto"/>
<rect x="341" y="447.3" width="3" height="21.3" shape-rendering="auto"/>
<rect x="349" y="447.3" width="3" height="17.3" shape-rendering="auto"/>
<rect x="357" y="447.3" width="3" height="12.4" shape-rendering="auto"/>
<rect x="365" y="447.3" width="3" height="7.4" shape-rendering="auto"/>
<rect x="373" y="447.3" width="3" height="3.5" shape-rendering="auto"/>
<rect x="381" y="445.2" width="3" height="2.1" shape-rendering="auto"/>
<rect x="389" y="447.3" width="3" height="3.5" shape-rendering="auto"/>
<rect x="397" y="447.3" width="3" height="5.5" shape-rendering="auto"/>
<rect x="405" y="447.3" width="3" height="4.5" shape-rendering="auto"/>
<rect x="413" y="447.3" width="3" height="7.4" shape-rendering="auto"/>
<rect x="421" y="447.3" width="3" height="12.4" shape-rendering="auto"/>
<rect x="429" y="447.3" width="3" height="18.3" shape-rendering="auto"/>
<rect x="437" y="447.3" width="3" height="23.3" shape-rendering="auto"/>
<rect x="445" y="447.3" width="3" height="28.2" shape-rendering="auto"/>
<rect x="453" y="447.3" width="3" height="32.2" shape-rendering="auto"/>
<rect x="461" y="447.3" width="3" height="37.2" shape-rendering="auto"/>
<rect x="469" y="447.3" width="3" height="35.6" shape-rendering="auto"/>
<rect x="477" y="447.3" width="3" height="35.2" shape-rendering="auto"/>
<rect x="485" y="447.3" width="3" height="35.2" shape-rendering="auto"/>
<rect x="493" y="447.3" width="3" height="35.2" shape-rendering="auto"/>
<rect x="501" y="447.3" width="3" height="30.2" shape-rendering="auto"/>
<rect x="509" y="447.3" width="3" height="24.3" shape-rendering="auto"/>
<rect x="517" y="447.3" width="3" height="20.3" shape-rendering="auto"/>
<rect x="525" y="447.3" width="3" height="17.3" shape-rendering="auto"/>
<rect x="533" y="447.3" width="3" height="11.4" shape-rendering="auto"/>
<rect x="541" y="447.3" width="3" height="6.4" shape-rendering="auto"/>
<rect x="549" y="447.3" width="3" height="2.5" shape-rendering="auto"/>
<rect x="557" y="447.3" width="3" height="1.0" shape-rendering="auto"/>
<rect x="565" y="444.2" width="3" height="3.1" shape-rendering="auto"/>
<rect x="573" y="447.3" width="3" height="1.3" shape-rendering="auto"/>
<rect x="581" y="447.3" width="3" height="5.5" shape-rendering="auto"/>
<rect x="589" y="447.3" width="3" height="7.4" shape-rendering="auto"/>
<rect x="597" y="447.3" width="3" height="7.4" shape-rendering="auto"/>
<rect x="605" y="447.3" width="3" height="11.4" shape-rendering="auto"/>
<rect x="613" y="447.3" width="3" height="16.4" shape-rendering="auto"/>
<rect x="621" y="447.3" width="3" height="26.3" shape-rendering="auto"/>
<rect x="629" y="447.3" width="3" height="31.2" shape-rendering="auto"/>
<rect x="637" y="447.3" width="3" height="35.2" shape-rendering="auto"/>
<rect x="645" y="447.3" width="3" height="36.2" shape-rendering="auto"/>
<rect x="653" y="447.3" width="3" height="34.2" shape-rendering="auto"/>
<rect x="661" y="447.3" width="3" height="27.3" shape-rendering="auto"/>
<rect x="669" y="447.3" width="3" height="26.3" shape-rendering="auto"/>
<rect x="677" y="447.3" width="3" height="26.3" shape-rendering="auto"/>
<rect x="685" y="447.3" width="3" height="25.3" shape-rendering="auto"/>
<rect x="693" y="447.3" width="3" height="24.3" shape-rendering="auto"/>
<rect x="701" y="447.3" width="3" height="24.3" shape-rendering="auto"/>
<rect x="709" y="447.3" width="3" height="21.3" shape-rendering="auto"/>
<rect x="717" y="447.3" width="3" height="17.3" shape-rendering="auto"/>
<rect x="725" y="447.3" width="3" height="12.4" shape-rendering="auto"/>
<rect x="733" y="447.3" width="3" height="9.4" shape-rendering="auto"/>
<rect x="741" y="447.3" width="3" height="6.4" shape-rendering="auto"/>
<rect x="749" y="447.3" width="3" height="6.4" shape-rendering="auto"/>
<rect x="757" y="447.3" width="3" height="6.4" shape-rendering="auto"/>
<rect x="765" y="447.3" width="3" height="9.4" shape-rendering="auto"/>
<rect x="773" y="447.3" width="3" height="13.4" shape-rendering="auto"/>
<rect x="781" y="447.3" width="3" height="16.4" shape-rendering="auto"/>
<rect x="789" y="447.3" width="3" height="17.3" shape-rendering="auto"/>
<rect x="797" y="447.3" width="3" height="19.3" shape-rendering="auto"/>
<rect x="805" y="447.3" width="3" height="20.3" shape-rendering="auto"/>
<rect x="813" y="447.3" width="3" height="20.3" shape-rendering="auto"/>
<rect x="821" y="447.3" width="3" height="17.3" shape-rendering="auto"/>
<rect x="829" y="447.3" width="3" height="13.4" shape-rendering="auto"/>
<rect x="837" y="447.3" width="3" height="11.4" shape-rendering="auto"/>
<rect x="845" y="447.3" width="3" height="12.4" shape-rendering="auto"/>
<rect x="853" y="447.3" width="3" height="15.4" shape-rendering="auto"/>
<rect x="861" y="447.3" width="3" height="18.3" shape-rendering="auto"/>
<rect x="869" y="447.3" width="3" height="19.3" shape-rendering="auto"/>
<rect x="877" y="447.3" width="3" height="17.3" shape-rendering="auto"/>
<rect x="885" y="447.3" width="3" height="12.4" shape-rendering="auto"/>
<rect x="893" y="447.3" width="3" height="5.5" shape-rendering="auto"/>
<rect x="901" y="446.3" width="3" height="1.0" shape-rendering="auto"/>
<rect x="909" y="435.9" width="3" height="11.4" shape-rendering="auto"/>
<rect x="917" y="431.0" width="3" height="16.3" shape-rendering="auto"/>
</g>
<polyline points="5.9,449.4 15.9,452.8 27.7,455.3 39.6,455.1 47.6,453.7 59.5,448.8 71.3,444.8 83.2,442.3 93.1,441.3 103.1,442.3 113.0,445.2 124.9,450.8 134.8,458.7 146.7,467.6 158.5,475.1 170.4,480.5 182.3,484.1 190.2,484.5 200.2,483.5 208.1,481.9 218.0,477.9 227.9,473.2 241.9,466.6 253.8,460.3 265.7,457.3 278.6,454.7 289.5,455.7 301.3,457.7 313.2,463.7 325.1,469.0 337.0,473.0 348.9,474.2 358.8,473.6 368.7,471.2 380.6,465.6 392.5,461.1 404.4,456.7 416.3,454.3 430.2,454.3 440.1,456.7 450.0,460.7 459.9,465.2 471.9,470.0 483.8,474.6 495.7,478.5 505.6,479.5 515.5,478.9 527.4,476.9 539.3,473.0 551.2,467.2 563.1,461.3 574.9,456.1 586.8,452.8 596.7,451.2 608.6,451.2 618.5,453.7 628.5,457.7 638.4,462.1 648.3,467.0 660.2,471.6 672.0,474.6 683.9,477.1 692.0,476.3 701.9,476.1 709.8,473.9 721.7,471.2 733.6,468.0 743.5,464.6 755.4,461.7 767.3,459.1 779.2,457.3 793.1,457.3 801.0,458.7 812.9,461.3 824.8,462.7 840.6,463.3 860.4,463.3 880.3,463.3 890.2,461.7 900.1,459.7 910.0,457.3 917.9,454.1" fill="none" stroke="#ff0000" stroke-width="1" stroke-linejoin="round" shape-rendering="crispEdges"/>
<text class="lb" x="10.3" y="439.6" textLength="150.4" lengthAdjust="spacingAndGlyphs">MACD(12,26,9) 0.001218 -0.000578</text>
<text class="ax" x="1172.4" y="438">0.001461</text>
<text class="ax" x="1172.4" y="451">0.00</text>
<text class="ax" x="1172.4" y="492">-0.003869</text>
<line x1="7.2" y1="523.42" x2="1168" y2="523.42" stroke="#b2b2b2" stroke-width="1" stroke-dasharray="3 3"/>
<line x1="7.2" y1="556.5" x2="1168" y2="556.5" stroke="#b2b2b2" stroke-width="1" stroke-dasharray="3 3"/>
<polyline points="5.9,540.2 14.9,538.2 22.4,535.2 30.3,538.6 38.2,537.2 46.6,531.7 54.5,532.3 62.4,534.1 70.4,537.6 78.3,541.0 87.2,545.2 94.5,547.1 102.5,550.5 110.4,550.5 118.9,554.5 126.2,551.1 134.8,552.5 142.5,553.5 149.6,554.5 157.6,548.9 166.3,545.9 174.2,542.6 181.3,540.6 190.4,540.2 198.4,541.6 206.3,542.6 214.2,540.2 222.2,538.2 230.5,534.3 238.4,533.3 241.9,533.3 247.8,535.1 254.2,538.6 262.1,545.0 270.4,548.5 278.4,545.2 286.3,555.1 294.2,554.5 302.5,553.5 310.5,555.5 318.4,545.2 326.3,541.6 334.2,541.6 342.6,538.2 350.5,539.2 358.4,536.6 366.3,535.2 374.3,534.3 382.6,533.3 390.5,545.2 398.5,543.2 406.4,539.2 414.3,544.6 422.2,548.1 430.6,549.1 438.5,550.1 446.4,551.1 454.3,552.5 462.4,554.9 470.3,545.2 478.2,547.1 486.2,547.5 494.5,547.5 502.4,540.0 510.3,538.2 518.3,540.2 526.2,540.2 534.5,534.3 542.4,536.2 550.4,535.2 558.3,537.2 566.2,536.2 574.5,545.2 582.5,546.5 590.4,543.2 598.3,541.2 606.3,547.1 614.6,550.5 622.5,555.5 630.4,552.5 638.4,552.5 646.3,550.1 654.6,543.6 662.5,537.2 670.5,545.6 678.4,544.6 686.3,543.2 694.4,543.2 702.3,545.2 710.2,541.2 718.5,538.0 726.5,536.2 734.4,538.2 742.3,538.2 750.2,542.2 758.6,542.6 766.5,546.1 774.4,548.1 782.4,548.1 790.3,546.1 798.6,548.1 806.5,548.1 814.5,545.2 822.4,540.6 830.3,537.2 838.6,541.2 846.6,543.2 854.5,550.1 862.4,549.5 870.3,546.1 878.7,542.2 886.6,536.2 894.5,532.3 902.4,531.3 910.4,525.3 917.9,530.7" fill="none" stroke="#1e90ff" stroke-width="1" stroke-linejoin="round" shape-rendering="crispEdges"/>
<text class="lb" x="10.3" y="510" textLength="67.4" lengthAdjust="spacingAndGlyphs">RSI(14) 60.9175</text>
<text class="ax" x="1172.4" y="508">100</text>
<text class="ax" x="1172.4" y="526.8">70</text>
<text class="ax" x="1172.4" y="559.6">30</text>
<text class="ax" x="1172.4" y="577.1">0</text>
<g class="ce">
<rect x="6" y="582" width="1" height="3" fill="#000"/>
<rect x="70" y="582" width="1" height="3" fill="#000"/>
<rect x="134" y="582" width="1" height="3" fill="#000"/>
<rect x="198" y="582" width="1" height="3" fill="#000"/>
<rect x="262" y="582" width="1" height="3" fill="#000"/>
<rect x="326" y="582" width="1" height="3" fill="#000"/>
<rect x="390" y="582" width="1" height="3" fill="#000"/>
<rect x="454" y="582" width="1" height="3" fill="#000"/>
<rect x="518" y="582" width="1" height="3" fill="#000"/>
<rect x="582" y="582" width="1" height="3" fill="#000"/>
<rect x="646" y="582" width="1" height="3" fill="#000"/>
<rect x="710" y="582" width="1" height="3" fill="#000"/>
<rect x="774" y="582" width="1" height="3" fill="#000"/>
<rect x="838" y="582" width="1" height="3" fill="#000"/>
<rect x="902" y="582" width="1" height="3" fill="#000"/>
</g>
<text class="ax" style="font-size:9.3px" x="5.6" y="593.8">25 Jan 2019</text>
<text class="ax" style="font-size:9.3px" x="69.6" y="593.8">4 Feb 2019</text>
<text class="ax" style="font-size:9.3px" x="133.6" y="593.8">13 Feb 2019</text>
<text class="ax" style="font-size:9.3px" x="197.6" y="593.8">22 Feb 2019</text>
<text class="ax" style="font-size:9.3px" x="261.6" y="593.8">4 Mar 2019</text>
<text class="ax" style="font-size:9.3px" x="325.6" y="593.8">13 Mar 2019</text>
<text class="ax" style="font-size:9.3px" x="389.6" y="593.8">22 Mar 2019</text>
<text class="ax" style="font-size:9.3px" x="453.6" y="593.8">1 Apr 2019</text>
<text class="ax" style="font-size:9.3px" x="517.6" y="593.8">10 Apr 2019</text>
<text class="ax" style="font-size:9.3px" x="581.6" y="593.8">19 Apr 2019</text>
<text class="ax" style="font-size:9.3px" x="645.6" y="593.8">29 Apr 2019</text>
<text class="ax" style="font-size:9.3px" x="709.6" y="593.8">8 May 2019</text>
<text class="ax" style="font-size:9.3px" x="773.6" y="593.8">17 May 2019</text>
<text class="ax" style="font-size:9.3px" x="837.6" y="593.8">27 May 2019</text>
<text class="ax" style="font-size:9.3px" x="901.6" y="593.8">5 Jun 2019</text>
<g class="ce">
<rect x="0" y="602" width="1211" height="1" fill="#e3e3e3"/>
<rect x="0" y="603" width="1211" height="23" fill="#f0f0f0"/>
<rect x="0" y="604" width="1211" height="1" fill="#000"/>
<rect x="8" y="603" width="102" height="19" fill="#fff"/>
<rect x="7" y="604" width="1" height="19" fill="#000"/>
<rect x="7" y="622" width="104" height="1" fill="#000"/>
<rect x="110" y="604" width="1" height="19" fill="#000"/>
<rect x="0" y="604" width="1" height="19" fill="#f6f6f6"/>
</g>
<rect x="1.45" y="605" width="1.35" height="17.5" fill="#787878"/>
<text x="19.6" y="618.8" font-size="12" fill="#000" textLength="79.5" lengthAdjust="spacingAndGlyphs">EURUSD,Daily</text>
<g clip-path="url(#ctab)">
<text class="tab" x="122.3" y="618.8" textLength="81.4" lengthAdjust="spacingAndGlyphs">AUDUSD,Daily</text>
<text class="tab" x="225.3" y="618.8" textLength="78.5" lengthAdjust="spacingAndGlyphs">USDCHF,Daily</text>
<text class="tab" x="326.2" y="618.8" textLength="80.8" lengthAdjust="spacingAndGlyphs">USDCAD,Daily</text>
<text class="tab" x="429.3" y="618.8" textLength="82.4" lengthAdjust="spacingAndGlyphs">USDCNH,Daily</text>
<text class="tab" x="533.9" y="618.8" textLength="69.0" lengthAdjust="spacingAndGlyphs">XAUUSD,H4</text>
<text class="tab" x="625.7" y="618.8" textLength="45.9" lengthAdjust="spacingAndGlyphs">DJ30,H4</text>
<text class="tab" x="695.4" y="618.8" textLength="59.3" lengthAdjust="spacingAndGlyphs">USDOil,H1</text>
<text class="tab" x="777.5" y="618.8" textLength="65.8" lengthAdjust="spacingAndGlyphs">USDCHF,H1</text>
<text class="tab" x="867.6" y="618.8" textLength="66.4" lengthAdjust="spacingAndGlyphs">GBPUSD,H1</text>
<text class="tab" x="959.3" y="618.8" textLength="67.2" lengthAdjust="spacingAndGlyphs">EURUSD,H1</text>
<text class="tab" x="1050.3" y="618.8" textLength="68.3" lengthAdjust="spacingAndGlyphs">GBPAUD,H1</text>
<text class="tab" x="1141.4" y="618.8" textLength="36.3" lengthAdjust="spacingAndGlyphs">USDJP</text>
</g>
<g class="ce">
<rect x="215" y="608" width="1" height="13" fill="#8c8c8c"/>
<rect x="315" y="608" width="1" height="13" fill="#8c8c8c"/>
<rect x="419" y="608" width="1" height="13" fill="#8c8c8c"/>
<rect x="523" y="608" width="1" height="13" fill="#8c8c8c"/>
<rect x="615" y="608" width="1" height="13" fill="#8c8c8c"/>
<rect x="683" y="608" width="1" height="13" fill="#8c8c8c"/>
<rect x="767" y="608" width="1" height="13" fill="#8c8c8c"/>
<rect x="855" y="608" width="1" height="13" fill="#8c8c8c"/>
<rect x="947" y="608" width="1" height="13" fill="#8c8c8c"/>
<rect x="1039" y="608" width="1" height="13" fill="#8c8c8c"/>
<rect x="1131" y="608" width="1" height="13" fill="#8c8c8c"/>
<rect x="1179" y="605" width="32" height="21" fill="#f0f0f0"/>
</g>
<path d="M1187.5 609.5v7l-3.5-3.5z" fill="#a0a0a0"/>
<path d="M1203 609.5v7l3.5-3.5z" fill="#000"/>
</svg></body></html>
